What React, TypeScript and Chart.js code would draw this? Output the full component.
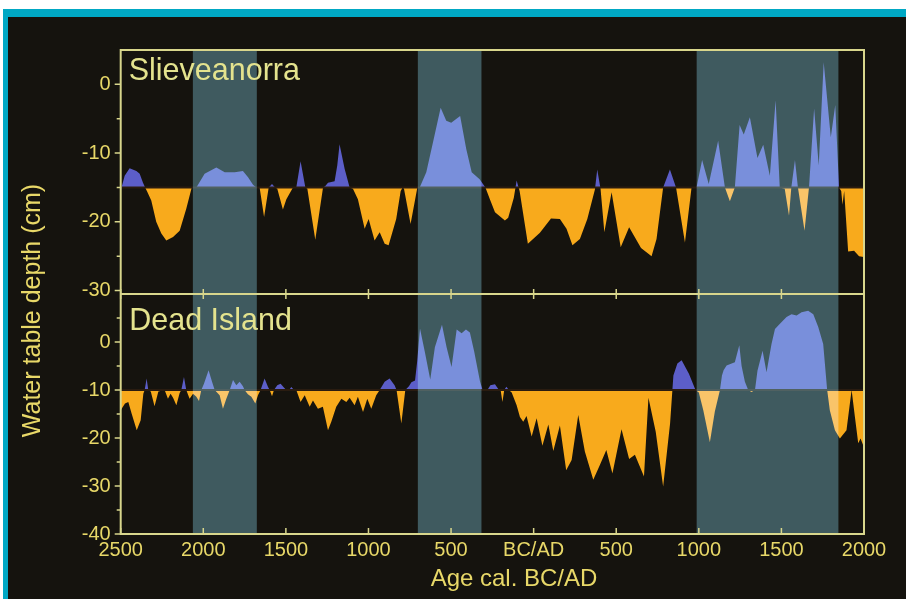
import React, { useEffect, useRef } from 'react';
import { Chart, registerables } from 'chart.js';

Chart.register(...registerables);

// ---- data ----
const xTickValues = [-2500, -2000, -1500, -1000, -500, 0, 500, 1000, 1500, 2000];
const xTickLabels = ['2500', '2000', '1500', '1000', '500', 'BC/AD', '500', '1000', '1500', '2000'];
const slTickValues = [0, -10, -20, -30];
const slMinorTicks = [-5, -15, -25];
const diTickValues = [0, -10, -20, -30, -40];
const diMinorTicks = [5, -5, -15, -25, -35];

const panelTitles = ['Slieveanorra', 'Dead Island'];
const xAxisTitle = 'Age cal. BC/AD';
const yAxisTitle = 'Water table depth (cm)';

const slBaseline = -15;
const diBaseline = -10;

const bandStart = [-2063, -701, 987];
const bandEnd = [-1676, -316, 1845];

const slYears = [
  -2495, -2476, -2446, -2405, -2385, -2365, -2352, -2340, -2315, -2285, -2254, -2224, -2183, -2143, -2103, -2070,
  -2042, -1992, -1921, -1870, -1810, -1760, -1729, -1699, -1679, -1659, -1632, -1604, -1584, -1565, -1552, -1518,
  -1497, -1457, -1437, -1411, -1382, -1370, -1322, -1275, -1261, -1245, -1205, -1189, -1175, -1144, -1114, -1094,
  -1064, -1023, -999, -963, -932, -902, -878, -832, -805, -793, -785, -745, -704, -690, -650, -610,
  -563, -529, -499, -445, -408, -375, -327, -292, -265, -234, -174, -154, -120, -103, -85, -35,
  38, 105, 159, 199, 235, 280, 325, 371, 385, 405, 428, 472, 527, 578, 650, 714,
  744, 784, 825, 862, 916, 956, 986, 1020, 1060, 1117, 1158, 1188, 1218, 1247, 1272, 1309,
  1355, 1390, 1430, 1465, 1490, 1520, 1546, 1560, 1582, 1600, 1640, 1667, 1698, 1726, 1756, 1799,
  1826, 1849, 1862, 1870, 1880, 1904, 1940, 1970, 1998,
];
const slDepth = [
  -15, -13.3, -12.2, -12.6, -13.0, -14.3, -15, -15.6, -16.9, -20.0, -21.7, -22.7, -22.2, -21.3, -18.1, -15,
  -15, -13.0, -12.1, -12.8, -12.8, -12.6, -13.5, -14.6, -15, -15, -19.3, -15, -14.5, -15, -15.2, -18.2,
  -16.7, -15, -15, -11.2, -15, -15.2, -22.6, -15, -14.8, -14.3, -14.1, -11.8, -8.7, -12.3, -15, -15.2,
  -16.7, -21.0, -19.6, -22.7, -21.5, -23.2, -23.4, -19.6, -15.5, -15, -15.2, -20.3, -15, -15, -12.8, -8.5,
  -3.4, -5.3, -5.6, -4.6, -9.4, -12.8, -13.8, -15, -16.7, -18.6, -19.8, -19.4, -16.5, -14.0, -15.5, -23.2,
  -21.6, -19.5, -19.6, -21.0, -23.4, -22.5, -19.6, -15.3, -12.4, -15.2, -21.5, -15.7, -23.7, -20.8, -23.8, -25.0,
  -22.5, -15, -12.4, -15, -23.0, -15, -15, -11.0, -14.5, -8.2, -15, -17.0, -15, -5.9, -7.3, -4.8,
  -10.7, -8.8, -13.3, -2.3, -15, -15.2, -19.1, -15, -11.0, -15, -21.3, -15, -3.5, -11.8, 3.2, -7.7,
  -3.0, -15, -15.5, -17.5, -15.5, -24.3, -24.2, -25.0, -25.1,
];

const diYears = [
  -2500, -2474, -2454, -2434, -2403, -2379, -2363, -2355, -2343, -2333, -2318, -2295, -2272, -2234, -2214, -2198,
  -2183, -2163, -2143, -2133, -2117, -2103, -2083, -2062, -2042, -2026, -2012, -1996, -1968, -1947, -1931, -1901,
  -1881, -1861, -1840, -1820, -1800, -1780, -1760, -1750, -1730, -1709, -1685, -1669, -1653, -1629, -1608, -1598,
  -1584, -1572, -1552, -1532, -1512, -1498, -1480, -1467, -1451, -1437, -1411, -1386, -1356, -1336, -1306, -1276,
  -1245, -1225, -1195, -1164, -1134, -1114, -1084, -1064, -1033, -1007, -983, -953, -932, -902, -872, -842,
  -830, -801, -777, -755, -740, -718, -705, -688, -658, -626, -598, -555, -527, -497, -466, -436,
  -410, -386, -360, -325, -309, -280, -262, -234, -210, -200, -189, -178, -165, -150, -133, -103,
  -83, -63, -43, -12, 18, 53, 89, 119, 159, 197, 230, 270, 310, 361, 401, 440,
  477, 532, 578, 613, 668, 695, 739, 784, 826, 840, 846, 870, 896, 940, 980, 1000,
  1027, 1067, 1097, 1128, 1140, 1150, 1168, 1218, 1245, 1259, 1279, 1299, 1319, 1340, 1355, 1386,
  1410, 1440, 1461, 1491, 1531, 1561, 1592, 1622, 1662, 1693, 1723, 1753, 1777, 1793, 1824, 1854,
  1894, 1925, 1945, 1965, 1979, 1995,
];
const diDepth = [
  -14.2, -12.8, -12.5, -14.9, -18.4, -16.3, -10.8, -10, -7.6, -10, -10.3, -13.4, -10.3, -10, -11.8, -10.8,
  -11.6, -13.2, -10.6, -10, -7.3, -10, -11.8, -10.8, -11.4, -12.3, -10, -8.7, -5.9, -8.3, -10, -11.1,
  -13.9, -11.9, -10, -7.9, -9.0, -8.3, -9.2, -10, -10.9, -11.4, -12.8, -11.1, -10, -7.6, -9.4, -10,
  -11.3, -10, -9.0, -8.7, -9.5, -10, -10, -9.4, -10, -10, -12.5, -11.1, -13.5, -12.2, -13.9, -13.5,
  -18.4, -16.6, -13.5, -11.8, -12.5, -11.6, -13.2, -11.4, -14.6, -11.8, -13.9, -11.1, -10, -8.3, -7.6, -9.0,
  -10, -17.0, -10, -9.2, -8.4, -8.0, -4.0, 2.8, -2.2, -7.8, -1.1, 3.6, -1.1, -5.2, 2.6, 1.8,
  2.6, 2.0, -2.0, -8.2, -10, -10, -9.0, -8.8, -10, -10, -12.5, -10, -9.3, -10, -10.5, -13.2,
  -15.6, -16.6, -15.4, -19.7, -15.9, -21.6, -17.2, -22.7, -17.4, -26.7, -24.6, -15.2, -22.8, -28.7, -25.6, -22.5,
  -27.4, -18.2, -24.4, -23.5, -28.0, -11.6, -18.7, -30.1, -17.0, -10, -7.0, -4.5, -3.8, -6.6, -10, -10.5,
  -14.2, -20.9, -14.5, -10, -7.0, -5.9, -4.9, -4.2, -0.7, -5.0, -8.3, -10, -10.4, -10, -6.0, -1.8,
  -6.3, -0.4, 2.7, 3.8, 5.2, 5.8, 5.5, 6.2, 6.5, 5.8, 3.1, -0.4, -10, -14.2, -18.4, -20.1,
  -18.4, -10, -15.6, -21.1, -20.1, -21.5,
];

// ---- styles ----
const BLUE = '#5c5ec8';
const ORANGE = '#f8aa1c';
const DARK = '#15130e';
const CYAN = '#00a8c4';
const FRAME = '#d8d68c';
const TICK_TEXT = '#e8d868';
const TITLE_TEXT = '#e4e38e';
const BAND_SCREEN = 'rgb(46,77,86)';
const FONT = '"Liberation Sans", Arial, sans-serif';
const NARROW = '"Liberation Sans Narrow"';

function fontAvailable(name: string): boolean {
  const c = document.createElement('canvas').getContext('2d');
  if (!c) return false;
  const sample = 'BC/AD 2500 Water';
  c.font = '40px monospace';
  const a = c.measureText(sample).width;
  c.font = `40px ${name}, monospace`;
  const b = c.measureText(sample).width;
  return Math.abs(a - b) > 0.5;
}

const decorPlugin = {
  id: 'decor',
  beforeDraw(chart: any) {
    const { ctx, width, height } = chart;
    ctx.save();
    ctx.fillStyle = '#ffffff';
    ctx.fillRect(0, 0, width, height);
    ctx.fillStyle = CYAN;
    ctx.fillRect(3, 9, width, height);
    ctx.fillStyle = DARK;
    ctx.fillRect(8, 17, width, height);
    ctx.restore();
  },
  afterDatasetsDraw(chart: any) {
    const { ctx, chartArea } = chart;
    const xs = chart.scales.x;
    ctx.save();
    ctx.globalCompositeOperation = 'screen';
    ctx.fillStyle = BAND_SCREEN;
    bandStart.forEach((b, i) => {
      const x1 = xs.getPixelForValue(b);
      const x2 = xs.getPixelForValue(bandEnd[i]);
      ctx.fillRect(x1, chartArea.top, x2 - x1, chartArea.bottom - chartArea.top);
    });
    ctx.restore();
  },
  afterDraw(chart: any) {
    const { ctx, chartArea } = chart;
    const xs = chart.scales.x;
    const ySL = chart.scales.ySL;
    const yDI = chart.scales.yDI;
    const mid = ySL.bottom;
    ctx.save();
    ctx.strokeStyle = FRAME;
    ctx.lineWidth = 2;
    ctx.strokeRect(chartArea.left, chartArea.top, chartArea.right - chartArea.left, chartArea.bottom - chartArea.top);
    ctx.beginPath();
    ctx.moveTo(chartArea.left, mid);
    ctx.lineTo(chartArea.right, mid);
    ctx.stroke();
    ctx.lineWidth = 1.5;
    ctx.beginPath();
    const left = chartArea.left;
    slTickValues.forEach((v) => { const y = ySL.getPixelForValue(v); ctx.moveTo(left - 6, y); ctx.lineTo(left, y); });
    slMinorTicks.forEach((v) => { const y = ySL.getPixelForValue(v); ctx.moveTo(left - 4, y); ctx.lineTo(left, y); });
    diTickValues.forEach((v) => { const y = yDI.getPixelForValue(v); ctx.moveTo(left - 6, y); ctx.lineTo(left, y); });
    diMinorTicks.forEach((v) => { const y = yDI.getPixelForValue(v); ctx.moveTo(left - 4, y); ctx.lineTo(left, y); });
    xTickValues.forEach((v) => {
      const x = xs.getPixelForValue(v);
      ctx.moveTo(x, chartArea.bottom);
      ctx.lineTo(x, chartArea.bottom - 6);
      ctx.moveTo(x, mid - 5);
      ctx.lineTo(x, mid + 5);
    });
    ctx.stroke();

    // panel titles
    ctx.fillStyle = TITLE_TEXT;
    ctx.font = `30.5px ${FONT}`;
    ctx.textAlign = 'left';
    ctx.textBaseline = 'alphabetic';
    ctx.fillText(panelTitles[0], chartArea.left + 8, ySL.top + 29.5);
    ctx.fillText(panelTitles[1], chartArea.left + 8.5, yDI.top + 35.5);

    // axis titles
    ctx.fillStyle = TICK_TEXT;
    ctx.font = `24px ${FONT}`;
    ctx.textAlign = 'center';
    ctx.fillText(xAxisTitle, 514, 586);
    ctx.save();
    ctx.translate(40, 310.5);
    ctx.rotate(-Math.PI / 2);
    ctx.font = `25px ${FONT}`;
    ctx.fillText(yAxisTitle, 0, 0);
    ctx.restore();
    ctx.restore();
  },
};

export default function App() {
  const ref = useRef<HTMLCanvasElement | null>(null);
  useEffect(() => {
    if (!ref.current) return;
    const narrow = fontAvailable(NARROW);
    const tickFont = narrow ? { family: `${NARROW}, ${FONT}`, size: 22.5 } : { family: FONT, size: 20 };
    const slData = slYears.map((x, i) => ({ x, y: slDepth[i] }));
    const diData = diYears.map((x, i) => ({ x, y: diDepth[i] }));
    const chart = new Chart(ref.current, {
      type: 'line',
      data: {
        datasets: [
          {
            data: [{ x: -2500, y: slBaseline }, { x: 2000, y: slBaseline }],
            yAxisID: 'ySL', borderColor: '#2a1c10', borderWidth: 2, pointRadius: 0, fill: false,
          },
          {
            data: [{ x: -2500, y: diBaseline }, { x: 2000, y: diBaseline }],
            yAxisID: 'yDI', borderColor: '#2a1c10', borderWidth: 2, pointRadius: 0, fill: false,
          },
          {
            data: slData, yAxisID: 'ySL', borderColor: 'rgba(0,0,0,0)', borderWidth: 0, pointRadius: 0, tension: 0,
            fill: { value: slBaseline, above: BLUE, below: ORANGE },
          },
          {
            data: diData, yAxisID: 'yDI', borderColor: 'rgba(0,0,0,0)', borderWidth: 0, pointRadius: 0, tension: 0,
            fill: { value: diBaseline, above: BLUE, below: ORANGE },
          },
        ],
      } as any,
      options: {
        responsive: false,
        animation: false,
        devicePixelRatio: 1,
        events: [],
        layout: { padding: { left: 0, right: 42, top: 50, bottom: 0 } },
        plugins: { legend: { display: false }, tooltip: { enabled: false } },
        scales: {
          x: {
            type: 'linear', position: 'bottom', min: -2500, max: 2000,
            afterFit: (s: any) => { s.height = 65; },
            afterBuildTicks: (s: any) => { s.ticks = xTickValues.map((v) => ({ value: v })); },
            grid: { display: false, drawTicks: false },
            border: { display: false },
            ticks: {
              autoSkip: false, maxRotation: 0, minRotation: 0, padding: 4, color: TICK_TEXT, font: tickFont,
              callback: (v: any) => { const i = xTickValues.indexOf(Number(v)); return i >= 0 ? xTickLabels[i] : ''; },
            },
          },
          yDI: {
            type: 'linear', position: 'left', stack: 'panels', stackWeight: 240, min: -40, max: 10,
            afterFit: (s: any) => { s.width = 120.7; },
            afterBuildTicks: (s: any) => { s.ticks = diTickValues.map((v) => ({ value: v })); },
            grid: { display: false, drawTicks: false },
            border: { display: false },
            ticks: { padding: 10, color: TICK_TEXT, font: tickFont, autoSkip: false, callback: (v: any) => String(v) },
          },
          ySL: {
            type: 'linear', position: 'left', stack: 'panels', stackWeight: 244, min: -30.5, max: 5,
            afterFit: (s: any) => { s.width = 120.7; },
            afterBuildTicks: (s: any) => { s.ticks = slTickValues.map((v) => ({ value: v })); },
            grid: { display: false, drawTicks: false },
            border: { display: false },
            ticks: { padding: 10, color: TICK_TEXT, font: tickFont, autoSkip: false, callback: (v: any) => String(v) },
          },
        } as any,
      },
      plugins: [decorPlugin],
    });
    return () => chart.destroy();
  }, []);

  return (
    <div style={{ position: 'fixed', left: 0, top: 0, width: 906, height: 599, overflow: 'hidden', background: '#fff' }}>
      <canvas ref={ref} width={906} height={599} style={{ display: 'block', width: 906, height: 599 }} />
    </div>
  );
}
